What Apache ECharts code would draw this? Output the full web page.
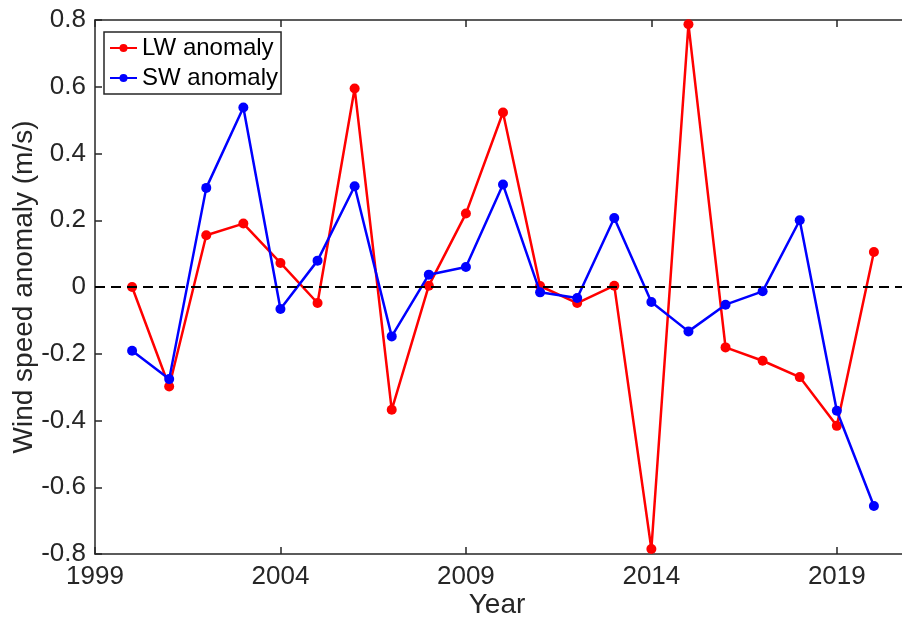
<!DOCTYPE html>
<html>
<head>
<meta charset="utf-8">
<script src="https://cdn.jsdelivr.net/npm/echarts@6/dist/echarts.min.js"></script>
<style>
html,body{margin:0;padding:0;background:#fff;}
#chart{width:902px;height:621px;}
</style>
</head>
<body>
<div id="chart"></div>
<script>
var years = [2000,2001,2002,2003,2004,2005,2006,2007,2008,2009,2010,2011,2012,2013,2014,2015,2016,2017,2018,2019,2020];
var lwAnomaly = [0.0,-0.298,0.155,0.19,0.072,-0.048,0.595,-0.368,0.004,0.22,0.523,0.003,-0.048,0.004,-0.785,0.787,-0.181,-0.221,-0.27,-0.416,0.105];
var swAnomaly = [-0.191,-0.276,0.297,0.538,-0.066,0.079,0.302,-0.148,0.037,0.06,0.307,-0.016,-0.033,0.207,-0.045,-0.133,-0.053,-0.013,0.2,-0.371,-0.656];
var xTickYears = [1999,2004,2009,2014,2019];
var seriesNames = ['LW anomaly','SW anomaly'];
var xAxisTitle = 'Year';
var yAxisTitle = 'Wind speed anomaly (m/s)';

var axisColor = '#262626';
var font = 'Liberation Sans, Arial, Helvetica, sans-serif';

function pairs(vals){ return years.map(function(y,i){ return [y, vals[i]]; }); }

var chart = echarts.init(document.getElementById('chart'), null, {renderer:'canvas'});
chart.setOption({
  animation:false,
  backgroundColor:'#ffffff',
  grid:{left:95, top:20, right:-9, bottom:67, containLabel:false, outerBoundsMode:'none'},
  legend:{
    orient:'vertical', left:104, top:32,
    data:seriesNames,
    backgroundColor:'#ffffff',
    borderColor:axisColor, borderWidth:1.5,
    padding:[4,3,4,5],
    itemGap:6, itemWidth:27, itemHeight:10,
    textStyle:{fontFamily:font, fontSize:24, color:'#000'}
  },
  xAxis:[{
    type:'value', min:1999, max:2021, position:'bottom',
    name:xAxisTitle, nameLocation:'middle', nameGap:37, nameMoveOverlap:false,
    nameTextStyle:{fontFamily:font, fontSize:28, color:axisColor, padding:[0,12,0,0]},
    axisLine:{show:true, onZero:false, lineStyle:{color:axisColor, width:1.5}},
    axisTick:{show:true, inside:true, length:7, customValues:xTickYears, lineStyle:{color:axisColor, width:1.5}},
    axisLabel:{show:true, customValues:xTickYears, margin:10, fontFamily:font, fontSize:26, color:axisColor,
      formatter:function(v){ return String(v); }},
    splitLine:{show:false}
  },{
    type:'value', min:1999, max:2021, position:'top',
    axisLine:{show:true, onZero:false, lineStyle:{color:axisColor, width:1.5}},
    axisTick:{show:true, inside:true, length:7, customValues:xTickYears, lineStyle:{color:axisColor, width:1.5}},
    axisLabel:{show:false},
    splitLine:{show:false}
  }],
  yAxis:{
    type:'value', min:-0.8, max:0.8, interval:0.2,
    name:yAxisTitle, nameLocation:'middle', nameGap:57, nameRotate:90, nameMoveOverlap:false,
    nameTextStyle:{fontFamily:font, fontSize:28, color:axisColor},
    axisLine:{show:true, onZero:false, lineStyle:{color:axisColor, width:1.5}},
    axisTick:{show:true, inside:true, length:7, lineStyle:{color:axisColor, width:1.5}},
    axisLabel:{margin:9, fontFamily:font, fontSize:26, color:axisColor,
      formatter:function(v){ var r=Math.round(v*10)/10; return r===0?'0':r.toFixed(1); }},
    splitLine:{show:false}
  },
  series:[{
    name:seriesNames[0], type:'line', data:pairs(lwAnomaly),
    symbol:'circle', symbolSize:10, z:3,
    itemStyle:{color:'#ff0000'}, lineStyle:{color:'#ff0000', width:2.5},
    markLine:{
      silent:true, symbol:['none','none'], label:{show:false},
      lineStyle:{color:'#000', type:[10,6], width:2},
      data:[{yAxis:0}]
    }
  },{
    name:seriesNames[1], type:'line', data:pairs(swAnomaly),
    symbol:'circle', symbolSize:10, z:4,
    itemStyle:{color:'#0000ff'}, lineStyle:{color:'#0000ff', width:2.5}
  }]
});
</script>
</body>
</html>
